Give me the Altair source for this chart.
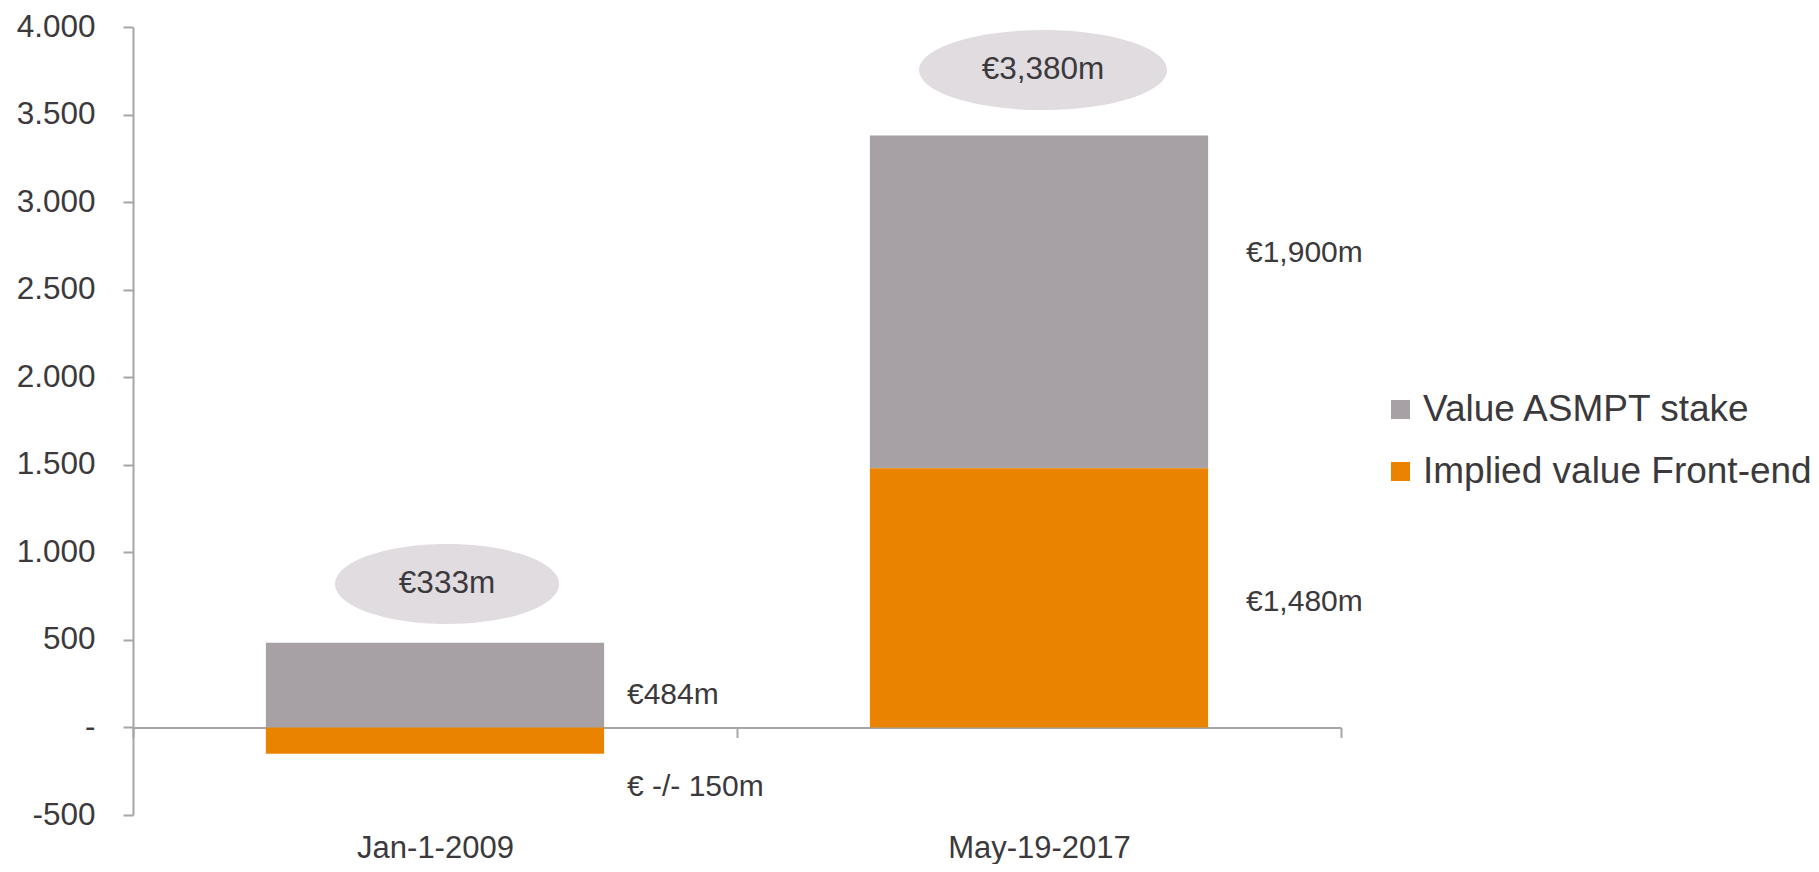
import altair as alt
import pandas as pd

# ---- data ----
categories = ["Jan-1-2009", "May-19-2017"]
series = ["Value ASMPT stake", "Implied value Front-end"]
asmpt_values = [484, 1900]
frontend_values = [-150, 1480]
series_colors = ["#a7a1a5", "#e98300"]

total_text = ["€333m", "€3,380m"]
total_bubble_y = [819, 3754]
total_dx = [12, 4]            # offset of the bubble from the category centre (px)
total_rx = [112, 124]         # bubble half-widths (px)
total_ry = [40, 40]           # bubble half-heights (px)

seg_label_cat = [categories[0], categories[0], categories[1], categories[1]]
seg_label_text = ["€484m", "€ -/- 150m", "€1,900m", "€1,480m"]
seg_label_y = [185, -340, 2709, 716]
seg_label_dx = [192, 192, 207, 207]   # offset from category centre (px)

y_ticks = [-500, 0, 500, 1000, 1500, 2000, 2500, 3000, 3500, 4000]
Y_MIN, Y_MAX = -500, 4000

# ---- styling ----
W, H = 1208, 788
FONT = "Liberation Sans"
TXT = "#3b393c"
AX = "#a6a6a6"
half_step = W / len(categories) / 2


def ellipse_path(rx, ry):
    r = ry / rx
    return f"M -1 0 A 1 {r:.4f} 0 1 0 1 0 A 1 {r:.4f} 0 1 0 -1 0 Z"


bars = pd.DataFrame({
    "cat": categories * 2,
    "series": [series[0]] * 2 + [series[1]] * 2,
    "value": asmpt_values + frontend_values,
    "ord": [1, 1, 0, 0],
})
bubbles = pd.DataFrame({
    "cat": categories, "y": total_bubble_y, "text": total_text,
    "dx": [d + half_step for d in total_dx],
    "shape": [ellipse_path(a, b) for a, b in zip(total_rx, total_ry)],
    "sz": [(2 * a) ** 2 for a in total_rx],
})
seglabels = pd.DataFrame({
    "cat": seg_label_cat, "y": seg_label_y, "text": seg_label_text,
    "dx": [d + half_step for d in seg_label_dx],
})

zero_offset = -H * (0 - Y_MIN) / (Y_MAX - Y_MIN)

x_scale = alt.Scale(paddingInner=0, paddingOuter=0)
x_enc = alt.X(
    "cat:N", sort=categories, title=None, scale=x_scale,
    axis=alt.Axis(
        offset=zero_offset, tickBand="extent", domainColor=AX, domainWidth=2,
        tickColor=AX, tickWidth=2, tickSize=10, labelPadding=96, labelAngle=0,
        labelFontSize=31, labelColor=TXT, labelFont=FONT, labelLimit=500,
    ),
)
x_plain = alt.X("cat:N", sort=categories, scale=x_scale)
y_scale = alt.Scale(domain=[Y_MIN, Y_MAX], nice=False, zero=False)

bar_layer = alt.Chart(bars).mark_bar(width=alt.RelativeBandSize(0.56)).encode(
    x=x_enc,
    y=alt.Y(
        "value:Q", stack="zero", scale=y_scale, title=None,
        axis=alt.Axis(
            values=y_ticks, grid=False, tickSize=10, labelPadding=28,
            labelFontSize=31.5, labelColor=TXT, labelFont=FONT,
            domainColor=AX, domainWidth=2, tickColor=AX, tickWidth=2,
            labelExpr="datum.value == 0 ? '-' : (datum.value < 0 ? '-' : '') + replace(format(abs(datum.value), ','), ',', '.')",
        ),
    ),
    color=alt.Color(
        "series:N", scale=alt.Scale(domain=series, range=series_colors),
        legend=alt.Legend(
            title=None, orient="none", legendX=1249, legendY=364,
            symbolType="square", symbolSize=361, symbolStrokeWidth=0,
            labelFontSize=37, labelColor=TXT, labelFont=FONT, labelOffset=4,
            rowPadding=24, padding=0, labelLimit=600,
        ),
    ),
    order=alt.Order("ord:Q"),
)

bubble_layer = alt.Chart(bubbles).mark_point(
    filled=True, color="#e0dce0", opacity=1, strokeWidth=0
).encode(
    x=x_plain,
    y=alt.Y("y:Q", scale=y_scale),
    xOffset=alt.XOffset("dx:Q", scale=None),
    shape=alt.Shape("shape:N", scale=None),
    size=alt.Size("sz:Q", scale=None),
)
bubble_text = alt.Chart(bubbles).mark_text(
    fontSize=31.5, font=FONT, color=TXT, baseline="middle", align="center"
).encode(
    x=x_plain,
    y=alt.Y("y:Q", scale=y_scale),
    xOffset=alt.XOffset("dx:Q", scale=None),
    text="text:N",
)
seg_text = alt.Chart(seglabels).mark_text(
    fontSize=30, font=FONT, color=TXT, baseline="middle", align="left"
).encode(
    x=x_plain,
    y=alt.Y("y:Q", scale=y_scale),
    xOffset=alt.XOffset("dx:Q", scale=None),
    text="text:N",
)

chart = alt.layer(bar_layer, bubble_layer, bubble_text, seg_text).properties(
    width=W, height=H,
    autosize=alt.AutoSizeParams(type="none"),
    padding={"left": 125, "top": 19, "right": 470, "bottom": 49},
).configure(font=FONT).configure_view(stroke=None)

chart.save("out.html", embed_options={"renderer": "svg", "actions": False})
